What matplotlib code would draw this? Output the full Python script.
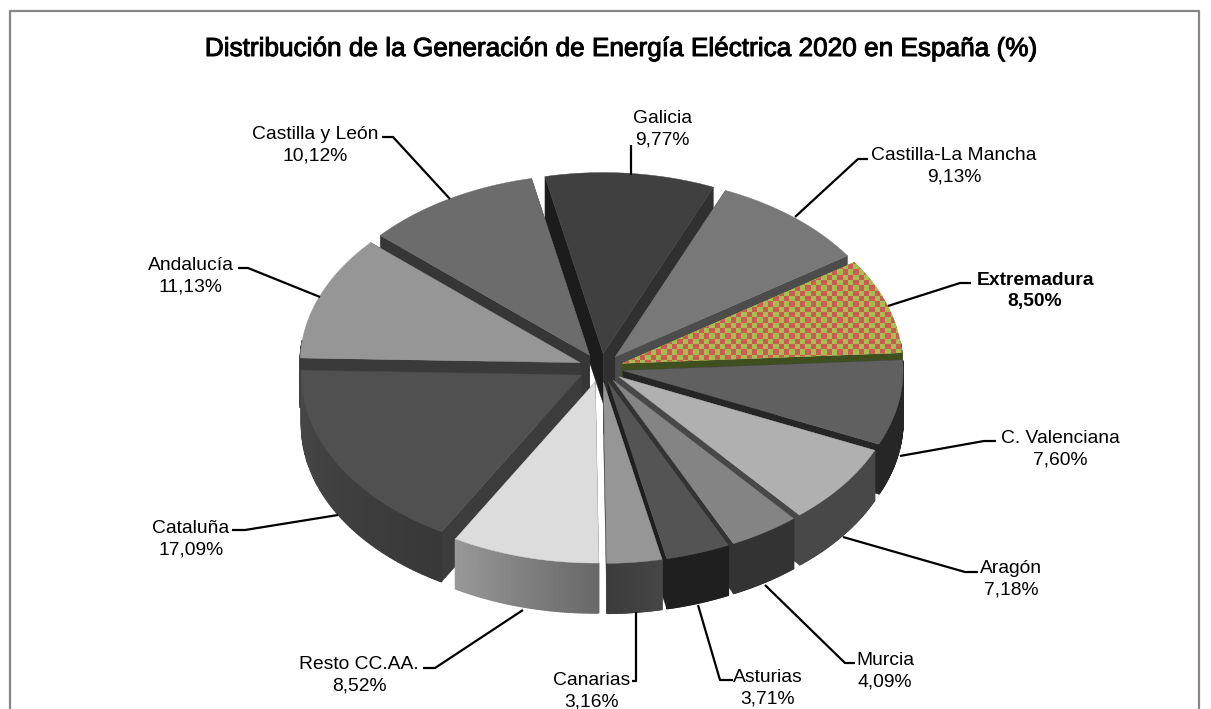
import numpy as np
import matplotlib
matplotlib.use("Agg")
import matplotlib.pyplot as plt
import matplotlib.patheffects as pe
from matplotlib.patches import Polygon
from matplotlib.colors import to_rgb, ListedColormap

regions = ["Galicia", "Castilla-La Mancha", "Extremadura", "C. Valenciana", "Aragón", "Murcia",
           "Asturias", "Canarias", "Resto CC.AA.", "Cataluña", "Andalucía", "Castilla y León"]
shares = [9.77, 9.13, 8.50, 7.60, 7.18, 4.09, 3.71, 3.16, 8.52, 17.09, 11.13, 10.12]

# top colour, radial wall colours (first and last edge), outer wall colour left and right
top_colors = ["#404040", "#787878", "#a8bc54", "#606060", "#b0b0b0", "#848484",
              "#545454", "#969696", "#dcdcdc", "#505050", "#969696", "#6c6c6c"]
wall_first = ["#1c1c1c", "#4c4c4c", "#3f4f20", "#262626", "#484848", "#333333",
              "#1f1f1f", "#444444", "#3a3a3a", "#3c3c3c", "#3a3a3a", "#363636"]
wall_last = ["#303030", "#4c4c4c", "#3f4f20", "#262626", "#484848", "#333333",
             "#1f1f1f", "#444444", "#3a3a3a", "#3c3c3c", "#3a3a3a", "#363636"]
outer_colors = [("#222222", "#222222"), ("#4c4c4c", "#4c4c4c"), ("#3f4f20", "#3f4f20"),
                ("#262626", "#262626"), ("#484848", "#484848"), ("#333333", "#333333"),
                ("#1f1f1f", "#1f1f1f"), ("#3c3c3c", "#464646"), ("#989898", "#686868"),
                ("#484848", "#383838"), ("#3a3a3a", "#3a3a3a"), ("#333333", "#333333")]

# label layout, pixels: text centre and leader line
label_pos = [(662, 129), (954, 166), (1035, 291), (1060, 449), (1011, 579), (885, 671),
             (768, 688), (592, 691), (359, 675), (191, 539), (191, 276), (315, 145)]
leaders = [[(631, 145), (631, 175)],
           [(868, 159), (858, 159), (795, 217)],
           [(971, 283), (960, 283), (888, 306)],
           [(996, 441), (984, 441), (900, 456)],
           [(978, 572), (965, 572), (843, 537)],
           [(855, 663), (845, 663), (765, 585)],
           [(733, 680), (720, 680), (698, 605)],
           [(632, 681), (636, 681), (636, 612)],
           [(423, 668), (435, 668), (523, 610)],
           [(232, 530), (245, 530), (338, 515)],
           [(238, 268), (248, 268), (320, 297)],
           [(382, 137), (393, 137), (450, 199)]]

cx, cy = 601, 368
rx, ry = 280, 181
depth = 50
explode = 0.08
start = -12

plt.rcParams["font.family"] = ["Liberation Sans", "DejaVu Sans"]
fig = plt.figure(figsize=(12.11, 7.09), dpi=100)
ax = fig.add_axes([0, 0, 1, 1])
ax.set_xlim(0, 1211)
ax.set_ylim(709, 0)
ax.axis("off")


def project(u, v, z=0):
    return cx + rx * u, cy + ry * v + z


fracs = np.array(shares) / sum(shares)
edges = start + 360 * np.concatenate([[0], np.cumsum(fracs)])
mids = (edges[:-1] + edges[1:]) / 2
# back slices first
order = np.argsort(-np.cos(np.radians(mids)))

for i in order:
    a = np.radians(np.linspace(edges[i], edges[i + 1], 80))
    m = np.radians(mids[i])
    ox, oy = explode * np.sin(m), -explode * np.cos(m)
    us, vs = ox + np.sin(a), oy - np.cos(a)
    ax0, ay0 = project(ox, oy)
    px, py = project(us, vs)

    # radial walls
    for ex, ey, col in [(px[0], py[0], wall_first[i]), (px[-1], py[-1], wall_last[i])]:
        ax.add_patch(Polygon([(ax0, ay0), (ex, ey), (ex, ey + depth), (ax0, ay0 + depth)],
                             fc=col, ec=col, lw=0.3))
    # outer wall, split in strips for the gradient
    c0, c1 = np.array(to_rgb(outer_colors[i][0])), np.array(to_rgb(outer_colors[i][1]))
    for k in range(len(a) - 1):
        if np.cos(a[k]) < 0.12:
            t = 1 - k / (len(a) - 2)
            col = c0 + (c1 - c0) * t
            ax.add_patch(Polygon([(px[k], py[k]), (px[k + 1], py[k + 1]),
                                  (px[k + 1], py[k + 1] + depth), (px[k], py[k] + depth)],
                                 fc=col, ec=col, lw=1.0))
    # top
    verts = [(ax0, ay0)] + list(zip(px, py))
    top = Polygon(verts, fc=top_colors[i], ec=top_colors[i], lw=0.3)
    ax.add_patch(top)
    if regions[i] == "Extremadura":
        ys, xs = np.indices((120, 120))
        checker = (xs + ys) % 2
        x_lo, y_lo = ax0 - 30, py.min() - 30
        im = ax.imshow(checker, cmap=ListedColormap(["#cc5c50", "#a8bc54"]),
                       extent=(x_lo, x_lo + 120 * 5.333, y_lo + 120 * 5.333, y_lo),
                       interpolation="nearest", aspect="auto", zorder=top.get_zorder())
        im.set_clip_path(top)

ax.set_xlim(0, 1211)
ax.set_ylim(709, 0)

for line in leaders:
    xs = [p[0] for p in line]
    ys = [p[1] for p in line]
    ax.plot(xs, ys, color="black", lw=1.6, solid_capstyle="butt", zorder=1)

for name, val, pos in zip(regions, shares, label_pos):
    txt = name + "\n" + f"{val:.2f}".replace(".", ",") + "%"
    ax.text(pos[0], pos[1], txt, ha="center", va="center", fontsize=13.9, color="black",
            linespacing=1.34, fontweight="bold" if name == "Extremadura" else "normal", zorder=5)

ax.text(620, 49, "Distribución de la Generación de Energía Eléctrica 2020 en España (%)",
        ha="center", va="center", fontsize=18.85, color="black", zorder=5,
        path_effects=[pe.withStroke(linewidth=0.7, foreground="black")])

# chart frame, open at the bottom edge
ax.plot([9.5, 9.5, 1199, 1199], [709, 11, 11, 709], color="#868686", lw=1.6, zorder=6)

fig.savefig("out.png", dpi=100)
